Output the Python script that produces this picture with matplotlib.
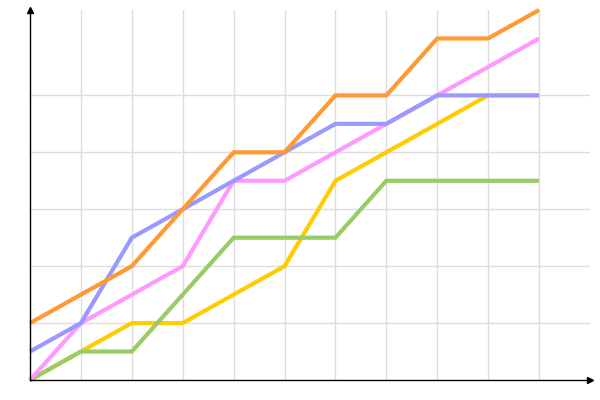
import matplotlib
matplotlib.use('Agg')
import matplotlib.pyplot as plt
import numpy as np

x = np.arange(11)
orange = [1, 1.5, 2, 3, 4, 4, 5, 5, 6, 6, 6.5]
blue = [0.5, 1, 2.5, 3, 3.5, 4, 4.5, 4.5, 5, 5, 5]
pink = [0, 1, 1.5, 2, 3.5, 3.5, 4, 4.5, 5, 5.5, 6]
yellow = [0, 0.5, 1, 1, 1.5, 2, 3.5, 4, 4.5, 5, 5]
green = [0, 0.5, 0.5, 1.5, 2.5, 2.5, 2.5, 3.5, 3.5, 3.5, 3.5]

fig = plt.figure(figsize=(6, 4), dpi=100)
ax = fig.add_axes([0.05, 0.05, 0.9333, 0.925])

# grid
for xv in range(1, 11):
    ax.axvline(xv, color='#dddddd', lw=1, zorder=0)
for yv in range(1, 6):
    ax.axhline(yv, color='#dddddd', lw=1, zorder=0)

lw = 3
ax.plot(x, yellow, color='#ffcc00', lw=lw, clip_on=False, solid_capstyle='butt')
ax.plot(x, green, color='#99cc66', lw=lw, clip_on=False, solid_capstyle='butt')
ax.plot(x, pink, color='#ff99ff', lw=lw, clip_on=False, solid_capstyle='butt')
ax.plot(x, blue, color='#9999ff', lw=lw, clip_on=False, solid_capstyle='butt')
ax.plot(x, orange, color='#ff9933', lw=lw, clip_on=False, solid_capstyle='butt')

ax.set_xlim(0, 11)
ax.set_ylim(0, 6.5)
ax.set_xticks([])
ax.set_yticks([])
for s in ['top', 'right']:
    ax.spines[s].set_visible(False)
for s in ['left', 'bottom']:
    ax.spines[s].set_color('black')
    ax.spines[s].set_linewidth(1)
    ax.spines[s].set_zorder(5)

# axis arrows
ax.plot(0, 6.5, marker='^', color='black', ms=4, clip_on=False, transform=ax.transData, zorder=6)
ax.plot(11, 0, marker='>', color='black', ms=4, clip_on=False, zorder=6)

fig.savefig('out.png', dpi=100)
